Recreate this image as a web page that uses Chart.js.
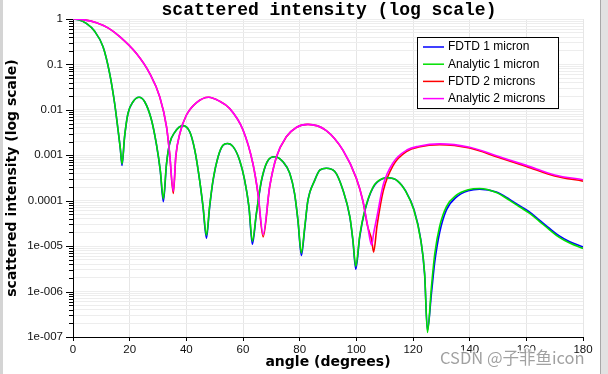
<!DOCTYPE html>
<html lang="en">
<head>
<meta charset="UTF-8">
<title>scattered intensity (log scale)</title>
<script src="https://cdn.jsdelivr.net/npm/chart.js@4.4.0/dist/chart.umd.min.js"></script>
<style>
    body { margin: 0; background: #fff; }
    #wrap { position: relative; width: 608px; height: 374px; overflow: hidden; }
    #frameLeft { position: absolute; left: 0; top: 0; width: 3px; height: 374px; background: #d4d4d4; }
    #frameRight { position: absolute; left: 600px; top: 0; width: 8px; height: 374px; background: #e2e2e2; border-left: 1px solid #a8a8a8; }
</style>
</head>
<body>
<div id="wrap">
    <canvas id="chart" width="608" height="374"></canvas>
    <div id="frameLeft"></div>
    <div id="frameRight"></div>
</div>

<script>
    // axis ticks
    const xTicks = [0, 20, 40, 60, 80, 100, 120, 140, 160, 180];
    const yMajorTicks = [1e-7, 1e-6, 1e-5, 1e-4, 1e-3, 0.01, 0.1, 1];
    const yTickLabels = ['1e-007', '1e-006', '1e-005', '0.0001', '0.001', '0.01', '0.1', '1'];

    const seriesNames = ['FDTD 1 micron', 'Analytic 1 micron', 'FDTD 2 microns', 'Analytic 2 microns'];
    const seriesColors = ['#0000ff', '#00e000', '#ff0000', '#ff00ff'];

    // 1 micron sphere (angle in degrees)
    const angles1 = [0, 2, 4.7, 7.5, 10.6, 12.95, 14.7, 15.9, 16.7, 17.3, 18.2, 19.4, 21.2, 23.3, 25.3, 27.7, 29.4, 30.8, 31.9,
        33, 34.1, 35.9, 38.8, 41.2, 43, 44.7, 45.9, 47.1, 48.2, 49.4, 51.2, 52.9, 54.5, 56.5, 58.8, 60.6, 62.1, 63.3,
        64.7, 66.5, 68.5, 71.2, 74.1, 76.5, 78.2, 79.4, 80.6, 81.8, 82.9, 85.3, 87.1, 89.4, 92.4, 95.3, 97.7, 98.8, 99.8,
        101.2, 103, 105.9, 109.4, 111, 114.5, 117.5, 120.3, 122.7, 124.1, 125.1, 126.5, 127.7, 129.4, 131.8, 135.3, 139.5,
        143.5, 149.4, 154.1, 158, 161.2, 164.5, 168.2, 171.5, 175.3, 180];
    const analytic1 = [1, 0.96, 0.80, 0.55, 0.245, 0.063, 0.0138, 0.00363, 0.00141, 0.00065, 0.00257, 0.0083, 0.0151, 0.019, 0.0151, 0.006, 0.00182, 0.00047, 0.00011,
        0.00066, 0.00182, 0.0032, 0.0045, 0.0033, 0.00129, 0.00028, 0.000074, 0.0000174, 0.000074, 0.00028, 0.00093, 0.00166, 0.00182, 0.00155, 0.00078, 0.00028, 0.000074, 0.0000129,
        0.000052, 0.00028, 0.00072, 0.00093, 0.00072, 0.0004, 0.000145, 0.000037, 0.0000071, 0.000027, 0.000102, 0.00028, 0.00047, 0.00052, 0.00044, 0.00017, 0.000045, 0.0000135, 0.0000036,
        0.000017, 0.000062, 0.0002, 0.00031, 0.00032, 0.000275, 0.000158, 0.000063, 0.000014, 0.0000025, 0.000000126, 0.00000126, 0.0000069, 0.000027, 0.000074, 0.000132, 0.000174,
        0.000186, 0.000151, 0.000102, 0.0000708, 0.0000525, 0.0000355, 0.0000229, 0.0000158, 0.0000117, 0.0000089];
    const fdtd1 = [1, 0.96, 0.80, 0.55, 0.245, 0.063, 0.0138, 0.0036, 0.0014, 0.0006, 0.0025, 0.0083, 0.0151, 0.019, 0.0151, 0.006, 0.0018, 0.00046, 0.000095,
        0.00064, 0.0018, 0.0032, 0.0045, 0.0033, 0.00128, 0.00028, 0.000072, 0.000015, 0.00007, 0.00027, 0.00092, 0.00165, 0.00182, 0.00155, 0.00078, 0.00028, 0.000072, 0.000011,
        0.00005, 0.00027, 0.00071, 0.00093, 0.00072, 0.0004, 0.000143, 0.000036, 0.0000062, 0.000025, 0.0001, 0.00028, 0.00047, 0.00052, 0.00044, 0.00017, 0.000044, 0.000013, 0.0000031,
        0.000016, 0.00006, 0.000195, 0.00031, 0.00032, 0.000275, 0.00016, 0.000065, 0.0000145, 0.0000024, 0.00000014, 0.0000009, 0.0000046, 0.00002, 0.000063, 0.00012, 0.000165,
        0.00018, 0.000155, 0.000107, 0.000075, 0.000056, 0.000038, 0.0000245, 0.000017, 0.0000125, 0.0000096];

    // 2 micron sphere
    const angles2 = [0, 4, 8.3, 12.5, 16.5, 22.4, 27.1, 30.6, 33, 34.1, 35.4, 36.3, 37.7, 40, 43.6, 47.9, 51.5, 55.3, 60, 63.5,
        65.3, 67.1, 69.4, 71.8, 75.3, 78.8, 82.9, 89.4, 95.3, 100, 102.3, 104, 105.4, 106.1, 107.3, 109.5, 113, 118, 122,
        129.4, 140, 150, 160, 170, 180];
    const analytic2 = [1, 0.955, 0.83, 0.63, 0.41, 0.174, 0.063, 0.0195, 0.0043, 0.00112, 0.000162, 0.001, 0.003, 0.0076, 0.0145, 0.019, 0.0158, 0.0107, 0.00363, 0.00066,
        0.000145, 0.0000182, 0.000204, 0.00093, 0.00257, 0.0041, 0.0048, 0.0035, 0.00129, 0.000316, 0.0001, 0.000028, 0.0000105, 0.000019, 0.000045, 0.000224, 0.00069, 0.00132, 0.00158,
        0.00178, 0.0015, 0.00095, 0.0006, 0.00037, 0.00029];
    const fdtd2 = [1, 0.955, 0.83, 0.63, 0.41, 0.174, 0.063, 0.0195, 0.0043, 0.0011, 0.000145, 0.00095, 0.003, 0.0076, 0.0145, 0.019, 0.0158, 0.0107, 0.0036, 0.00065,
        0.00014, 0.000016, 0.0002, 0.00092, 0.00255, 0.0041, 0.0048, 0.0035, 0.00128, 0.00031, 0.0001, 0.000027, 0.000014, 0.0000074, 0.000028, 0.000165, 0.0006, 0.00124, 0.00152,
        0.00172, 0.00145, 0.00091, 0.00057, 0.00035, 0.00027];

    // all log grid lines: 1..9 x each decade
    const yGridValues = [];
    yMajorTicks.forEach((d, i) => {
        if (i === yMajorTicks.length - 1) { yGridValues.push(d); return; }
        for (let s = 1; s <= 9; s++) yGridValues.push(d * s);
    });

    function yLabel(v) {
        const i = yMajorTicks.findIndex(m => Math.abs(v / m - 1) < 1e-6);
        return i < 0 ? '' : yTickLabels[i];
    }

    function points(xs, ys) {
        return xs.map((x, i) => ({ x: x, y: ys[i] }));
    }

    const seriesData = [points(angles1, fdtd1), points(angles1, analytic1), points(angles2, fdtd2), points(angles2, analytic2)];
    // lower order is drawn on top: green over blue, magenta over red
    const drawOrder = [4, 2, 3, 1];

    const decor = {
        id: 'decor',
        afterDraw(chart) {
            const ctx = chart.ctx;
            const area = chart.chartArea;
            const y = chart.scales.y;
            ctx.save();

            // y tick marks, long for decades
            ctx.strokeStyle = '#000';
            ctx.lineWidth = 1;
            yGridValues.forEach(v => {
                const py = Math.round(y.getPixelForValue(v)) + 0.5;
                const len = yLabel(v) ? 7 : 4;
                ctx.beginPath();
                ctx.moveTo(area.left - len, py);
                ctx.lineTo(area.left, py);
                ctx.stroke();
            });

            // title
            ctx.fillStyle = '#000';
            ctx.font = 'bold 18px "Liberation Mono"';
            ctx.textAlign = 'center';
            ctx.textBaseline = 'alphabetic';
            ctx.fillText('scattered intensity (log scale)', 329, 15);

            // legend
            const lx = 417.5, ly = 37.5, lw = 141, lh = 71;
            ctx.fillStyle = '#fff';
            ctx.fillRect(lx, ly, lw, lh);
            ctx.strokeStyle = '#000';
            ctx.strokeRect(lx, ly, lw, lh);
            ctx.font = '12px "Liberation Sans"';
            ctx.textAlign = 'left';
            ctx.textBaseline = 'middle';
            seriesNames.forEach((name, i) => {
                const ry = 47 + i * 17.2;
                ctx.strokeStyle = seriesColors[i];
                ctx.lineWidth = 1.5;
                ctx.beginPath();
                ctx.moveTo(423, ry);
                ctx.lineTo(444, ry);
                ctx.stroke();
                ctx.fillStyle = '#000';
                ctx.fillText(name, 448, ry);
            });

            // watermark
            ctx.font = '16.5px "Noto Sans CJK SC"';
            ctx.textBaseline = 'alphabetic';
            ctx.lineWidth = 3;
            ctx.strokeStyle = 'rgba(255,255,255,0.8)';
            ctx.strokeText('CSDN @子非鱼icon', 440, 364);
            ctx.fillStyle = 'rgba(110,110,110,0.65)';
            ctx.fillText('CSDN @子非鱼icon', 440, 364);
            ctx.restore();
        }
    };

    new Chart(document.getElementById('chart'), {
        type: 'line',
        data: {
            datasets: seriesNames.map((name, i) => ({
                label: name,
                data: seriesData[i],
                borderColor: seriesColors[i],
                backgroundColor: seriesColors[i],
                borderWidth: 1.6,
                pointRadius: 0,
                fill: false,
                cubicInterpolationMode: 'monotone',
                order: drawOrder[i]
            }))
        },
        options: {
            responsive: false,
            animation: false,
            layout: { padding: { top: 19, right: 25, left: 0, bottom: 0 } },
            plugins: {
                legend: { display: false },
                title: { display: false },
                tooltip: { enabled: false }
            },
            scales: {
                x: {
                    type: 'linear',
                    min: 0,
                    max: 180,
                    afterBuildTicks: (scale) => { scale.ticks = xTicks.map(v => ({ value: v })); },
                    afterFit: (scale) => { scale.height = 37; },
                    ticks: {
                        autoSkip: false,
                        maxRotation: 0,
                        padding: 2,
                        color: '#111',
                        font: { family: 'Liberation Sans', size: 11.5 }
                    },
                    grid: { color: '#e6e6e6', tickColor: '#000', tickLength: 4 },
                    border: { color: '#000', width: 1 },
                    title: {
                        display: true,
                        text: 'angle (degrees)',
                        color: '#000',
                        font: { family: 'DejaVu Sans', size: 14, weight: 'bold' },
                        padding: { top: 0, bottom: 3 }
                    }
                },
                y: {
                    type: 'logarithmic',
                    min: 1e-7,
                    max: 1,
                    afterBuildTicks: (scale) => { scale.ticks = yGridValues.map(v => ({ value: v })); },
                    afterFit: (scale) => { scale.width = 73; },
                    ticks: {
                        autoSkip: false,
                        padding: 10,
                        color: '#111',
                        font: { family: 'Liberation Sans', size: 11.5 },
                        callback: (v) => yLabel(v)
                    },
                    grid: { color: '#ededed', drawTicks: false },
                    border: { color: '#000', width: 1 },
                    title: {
                        display: true,
                        text: 'scattered intensity (log scale)',
                        color: '#000',
                        font: { family: 'DejaVu Sans', size: 14, weight: 'bold' },
                        padding: { top: 4, bottom: 0 }
                    }
                }
            }
        },
        plugins: [decor]
    });
</script>
</body>
</html>
